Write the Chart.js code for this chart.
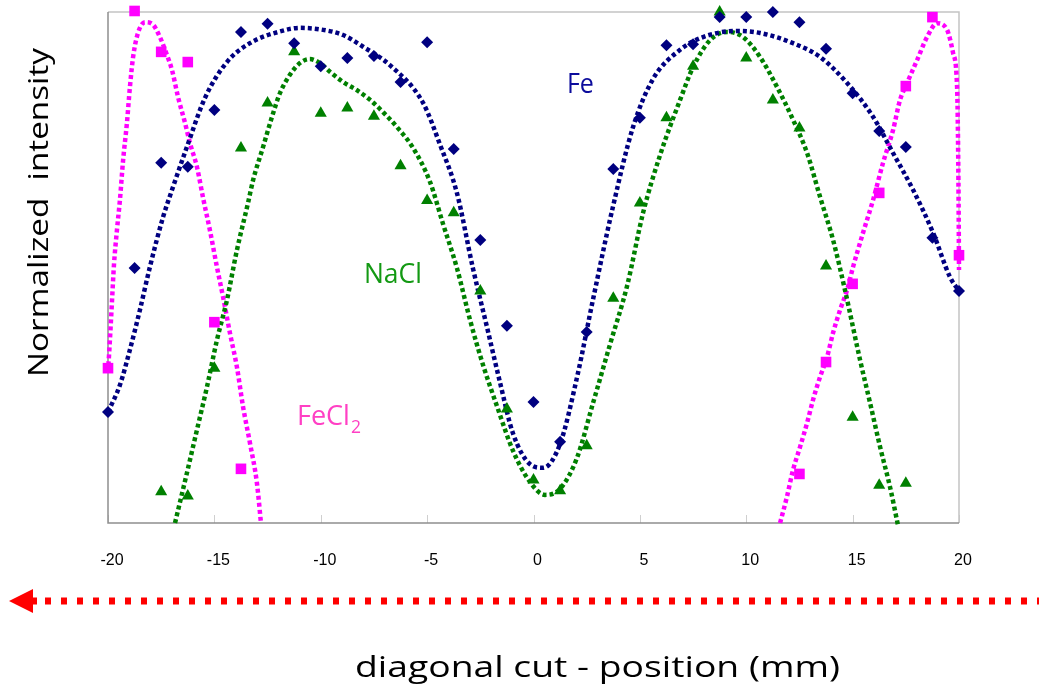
<!DOCTYPE html>
<html>
<head>
<meta charset="utf-8">
<script src="https://cdn.jsdelivr.net/npm/chart.js@4.4.1/dist/chart.umd.min.js"></script>
<style>
  html, body { margin: 0; padding: 0; background: #fff; }
  canvas { display: block; }
</style>
</head>
<body>
<canvas id="chart" width="1039" height="684"></canvas>
<script>
// measured points (position in mm, normalized intensity)
const fePos = [-20, -18.75, -17.5, -16.25, -15, -13.75, -12.5, -11.25, -10, -8.75, -7.5, -6.25, -5, -3.75, -2.5, -1.25,
  0, 1.25, 2.5, 3.75, 5, 6.25, 7.5, 8.75, 10, 11.25, 12.5, 13.75, 15, 16.25, 17.5, 18.75, 20];
const feVals = [0.217, 0.499, 0.705, 0.697, 0.808, 0.961, 0.977, 0.939, 0.894, 0.910, 0.914, 0.863, 0.941, 0.732, 0.554, 0.386,
  0.237, 0.159, 0.374, 0.693, 0.793, 0.935, 0.937, 0.990, 0.990, 1.000, 0.980, 0.928, 0.841, 0.767, 0.736, 0.558, 0.454];

const naclPos = [-17.5, -16.25, -15, -13.75, -12.5, -11.25, -10, -8.75, -7.5, -6.25, -5, -3.75, -2.5, -1.25,
  0, 1.25, 2.5, 3.75, 5, 6.25, 7.5, 8.75, 10, 11.25, 12.5, 13.75, 15, 16.25, 17.5];
const naclVals = [0.061, 0.053, 0.303, 0.734, 0.822, 0.922, 0.802, 0.812, 0.796, 0.699, 0.631, 0.607, 0.454, 0.223,
  0.084, 0.063, 0.151, 0.440, 0.626, 0.793, 0.894, 1.000, 0.910, 0.828, 0.773, 0.503, 0.207, 0.074, 0.078];

const fecl2Pos = [-20, -18.75, -17.5, -16.25, -15, -13.75, 12.5, 13.75, 15, 16.25, 17.5, 18.75, 20];
const fecl2Vals = [0.303, 1.002, 0.922, 0.902, 0.393, 0.106, 0.096, 0.315, 0.468, 0.646, 0.855, 0.990, 0.524];

// trend lines
const feTrendX = [-20.00, -19.44, -18.97, -18.50, -18.03, -17.41, -16.99, -16.29, -15.44, -14.41, -13.33, -11.82, -10.98, -9.89, -8.95,
  -8.01, -6.75, -5.19, -4.39, -3.60, -2.85, -2.19, -1.58, -0.97, -0.16, 0.45, 1.25, 2.04, 2.80, 3.74,
  4.68, 5.62, 6.89, 7.97, 9.57, 10.65, 12.20, 13.47, 14.74, 15.96, 16.90, 17.84, 18.78, 19.58, 20.00];
const feTrendY = [0.217, 0.270, 0.339, 0.417, 0.501, 0.599, 0.652, 0.736, 0.832, 0.902, 0.939, 0.963, 0.969, 0.965, 0.955,
  0.932, 0.896, 0.822, 0.740, 0.646, 0.499, 0.384, 0.276, 0.176, 0.115, 0.108, 0.155, 0.284, 0.438, 0.620,
  0.775, 0.869, 0.926, 0.951, 0.963, 0.959, 0.939, 0.912, 0.861, 0.795, 0.724, 0.652, 0.568, 0.481, 0.454];

const naclTrendX = [-16.85, -16.29, -15.82, -15.35, -14.88, -14.41, -13.94, -13.42, -13.18, -12.71, -12.29, -11.92, -11.45, -10.98,
  -10.51, -10.04, -9.57, -8.95, -8.30, -7.68, -7.07, -6.42, -5.66, -4.86, -4.25, -3.60, -2.98, -2.37, -1.72, -0.96,
  -0.16, 0.54, 1.25, 2.04, 2.80, 3.60, 4.40, 5.15, 5.95, 6.89, 7.50, 8.30, 9.10, 9.85, 10.65, 11.45, 12.20, 12.86,
  13.47, 14.08, 14.64, 15.35, 15.82, 16.29, 16.76, 17.13];
const naclTrendY = [0.000, 0.098, 0.182, 0.266, 0.358, 0.436, 0.534, 0.626, 0.671, 0.736, 0.795, 0.841, 0.877, 0.900,
  0.908, 0.900, 0.883, 0.863, 0.847, 0.828, 0.804, 0.775, 0.734, 0.667, 0.585, 0.499, 0.397, 0.309, 0.229, 0.141,
  0.080, 0.055, 0.067, 0.127, 0.235, 0.350, 0.464, 0.607, 0.720, 0.828, 0.892, 0.945, 0.961, 0.951, 0.912, 0.853, 0.789, 0.724,
  0.638, 0.554, 0.456, 0.319, 0.235, 0.149, 0.070, -0.004];

const fecl2LeftX = [-20.00, -19.91, -19.81, -19.72, -19.58, -19.44, -19.29, -19.11, -18.97, -18.82, -18.59, -18.26, -17.88, -17.56, -17.32,
  -16.99, -16.71, -16.38, -16.15, -15.82, -15.53, -15.21, -14.88, -14.59, -14.27, -13.94, -13.65, -13.33, -13.00, -12.81];
const fecl2LeftY = [0.295, 0.358, 0.436, 0.505, 0.573, 0.632, 0.710, 0.783, 0.853, 0.912, 0.959, 0.980, 0.975, 0.951, 0.926,
  0.886, 0.834, 0.783, 0.744, 0.697, 0.636, 0.573, 0.501, 0.442, 0.372, 0.305, 0.227, 0.157, 0.078, 0.000];

const fecl2RightX = [11.59, 11.91, 12.20, 12.53, 12.86, 13.14, 13.47, 13.80, 14.08, 14.41, 14.74, 15.02, 15.49, 15.96,
  16.43, 16.90, 17.23, 17.56, 18.03, 18.50, 18.97, 19.44, 19.72, 19.91, 19.95, 19.98, 20.00];
const fecl2RightY = [0.000, 0.051, 0.104, 0.149, 0.196, 0.241, 0.286, 0.325, 0.372, 0.417, 0.456, 0.501, 0.568, 0.632,
  0.705, 0.769, 0.828, 0.861, 0.906, 0.951, 0.978, 0.965, 0.920, 0.853, 0.763, 0.632, 0.495];

const xTicks = [-20, -15, -10, -5, 0, 5, 10, 15, 20];

const FE = "#000080";
const NACL = "#008000";
const FECL2 = "#ff00ff";
const FONT = "'Open Sans', 'Noto Sans', sans-serif";

const toPts = (xs, ys) => xs.map((x, i) => ({ x: x, y: ys[i] }));

const markers = (label, xs, ys, color, style, radius) => ({
  label: label,
  data: toPts(xs, ys),
  showLine: false,
  pointStyle: style,
  pointRadius: radius,
  pointBackgroundColor: color,
  pointBorderColor: color,
  pointBorderWidth: 0,
  order: 0,
  clip: false
});

const trend = (label, xs, ys, color) => ({
  label: label,
  data: toPts(xs, ys),
  showLine: true,
  borderColor: color,
  borderWidth: 4.5,
  borderDash: [4, 3],
  borderCapStyle: "butt",
  cubicInterpolationMode: "monotone",
  pointRadius: 0,
  fill: false,
  order: 1,
  clip: false
});

// draws a text stretched to a given width, baseline-left at (x, y)
const fitText = (ctx, text, x, y, width, font, color, angle) => {
  ctx.save();
  ctx.font = font;
  ctx.fillStyle = color;
  ctx.textAlign = "left";
  ctx.textBaseline = "alphabetic";
  ctx.translate(x, y);
  if (angle) ctx.rotate(angle);
  ctx.scale(width / ctx.measureText(text).width, 1);
  ctx.fillText(text, 0, 0);
  ctx.restore();
};

const frame = {
  id: "frame",
  beforeDatasetsDraw(chart) {
    const ctx = chart.ctx;
    const a = chart.chartArea;
    const sx = chart.scales.x;
    ctx.save();
    // inward ticks
    ctx.strokeStyle = "#cfcfcf";
    ctx.lineWidth = 1;
    xTicks.forEach(v => {
      const px = Math.round(sx.getPixelForValue(v)) + 0.5;
      ctx.beginPath();
      ctx.moveTo(px, a.bottom);
      ctx.lineTo(px, a.bottom - 8);
      ctx.stroke();
    });
    ctx.lineWidth = 1.5;
    ctx.strokeStyle = "#c4c4c4";
    ctx.beginPath();
    ctx.moveTo(a.left, a.top);
    ctx.lineTo(a.right, a.top);
    ctx.lineTo(a.right, a.bottom);
    ctx.stroke();
    ctx.strokeStyle = "#8f8f8f";
    ctx.beginPath();
    ctx.moveTo(a.left, a.top);
    ctx.lineTo(a.left, a.bottom);
    ctx.lineTo(a.right, a.bottom);
    ctx.stroke();
    ctx.restore();
  }
};

const decor = {
  id: "decor",
  afterDraw(chart) {
    const ctx = chart.ctx;
    const sx = chart.scales.x;
    const sy = chart.scales.y;

    // axis titles
    fitText(ctx, "Normalized  intensity", 48, 377, 329, "27px " + FONT, "#000", -Math.PI / 2);
    fitText(ctx, "diagonal cut - position (mm)", 355, 677, 485, "30px " + FONT, "#000");

    // series labels
    fitText(ctx, "Fe", sx.getPixelForValue(1.57), sy.getPixelForValue(0.841), 27, "28px " + FONT, "#0c0c9c");
    fitText(ctx, "NaCl", sx.getPixelForValue(-7.97), sy.getPixelForValue(0.470), 58, "28px " + FONT, "#139913");
    fitText(ctx, "FeCl", sx.getPixelForValue(-11.12), sy.getPixelForValue(0.192), 53, "28px " + FONT, "#ff40c4");
    fitText(ctx, "2", sx.getPixelForValue(-11.12) + 54, sy.getPixelForValue(0.192) + 8, 10, "19px " + FONT, "#ff40c4");

    // direction arrow
    ctx.save();
    ctx.strokeStyle = "#ff0000";
    ctx.fillStyle = "#ff0000";
    ctx.lineWidth = 7;
    ctx.setLineDash([6, 10]);
    ctx.beginPath();
    ctx.moveTo(45, 601);
    ctx.lineTo(1039, 601);
    ctx.stroke();
    ctx.beginPath();
    ctx.moveTo(9, 601);
    ctx.lineTo(33, 589);
    ctx.lineTo(33, 597.5);
    ctx.lineTo(37, 597.5);
    ctx.lineTo(37, 604.5);
    ctx.lineTo(33, 604.5);
    ctx.lineTo(33, 613);
    ctx.closePath();
    ctx.fill();
    ctx.restore();
  }
};

new Chart(document.getElementById("chart").getContext("2d"), {
  type: "scatter",
  data: {
    datasets: [
      markers("Fe", fePos, feVals, FE, "rectRot", 6),
      markers("NaCl", naclPos, naclVals, NACL, "triangle", 7),
      markers("FeCl2", fecl2Pos, fecl2Vals, FECL2, "rect", 7.5),
      trend("Fe trend", feTrendX, feTrendY, FE),
      trend("NaCl trend", naclTrendX, naclTrendY, NACL),
      trend("FeCl2 trend", fecl2LeftX, fecl2LeftY, FECL2),
      trend("FeCl2 trend 2", fecl2RightX, fecl2RightY, FECL2)
    ]
  },
  options: {
    responsive: false,
    animation: false,
    events: [],
    layout: { padding: { left: 108, right: 80, top: 12, bottom: 0 } },
    plugins: {
      legend: { display: false },
      tooltip: { enabled: false }
    },
    scales: {
      x: {
        type: "linear",
        min: -20,
        max: 20,
        afterFit: (s) => { s.height = 161; },
        afterBuildTicks: (s) => { s.ticks = xTicks.map(v => ({ value: v })); },
        grid: { display: false, drawTicks: false },
        border: { display: false },
        ticks: {
          padding: 28,
          labelOffset: 4,
          maxRotation: 0,
          autoSkip: false,
          color: "#000",
          font: { family: "'Liberation Sans', Arial, sans-serif", size: 16 }
        }
      },
      y: { type: "linear", min: 0, max: 1, display: false }
    }
  },
  plugins: [frame, decor]
});
</script>
</body>
</html>
